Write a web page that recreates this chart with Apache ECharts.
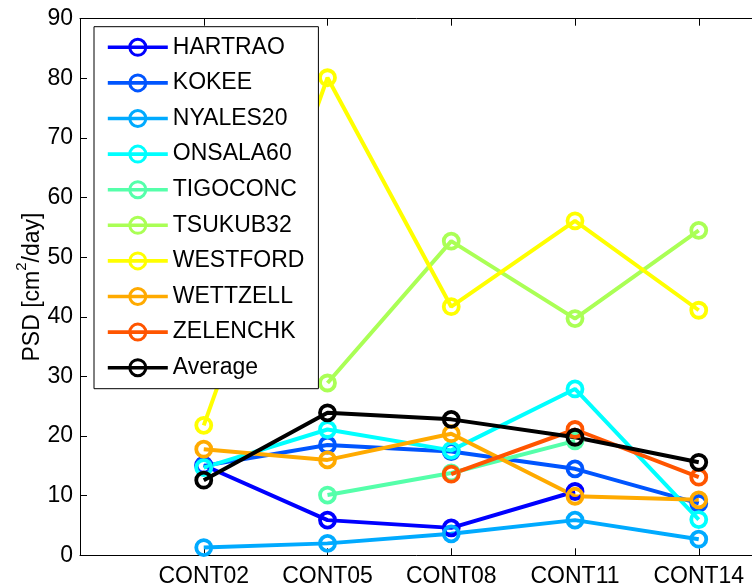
<!DOCTYPE html>
<html>
<head>
<meta charset="utf-8">
<script src="https://cdn.jsdelivr.net/npm/echarts@6/dist/echarts.min.js"></script>
<style>
  html, body { margin: 0; padding: 0; background: #ffffff; }
  #chart { width: 752px; height: 588px; }
</style>
</head>
<body>
<div id="chart"></div>
<script>
// Campaigns along the horizontal axis
const categories = ['CONT02', 'CONT05', 'CONT08', 'CONT11', 'CONT14'];

// PSD per station and campaign [cm^2/day]; null = station not observed
const HARTRAO  = [15.1, 5.9, 4.6, 10.7, null];
const KOKEE    = [15.0, 18.5, 17.4, 14.5, 8.7];
const NYALES20 = [1.3, 2.0, 3.6, 5.9, 2.7];
const ONSALA60 = [14.7, 21.1, 17.6, 27.9, 6.0];
const TIGOCONC = [null, 10.1, 13.8, 19.2, null];
const TSUKUB32 = [null, 28.9, 52.7, 39.7, 54.5];
const WESTFORD = [21.8, 80.1, 41.7, 56.1, 41.1];
const WETTZELL = [17.8, 16.0, 20.4, 9.9, 9.3];
const ZELENCHK = [null, null, 13.6, 21.1, 13.1];
const Average  = [12.6, 23.9, 22.8, 19.8, 15.6];

const stationNames = ['HARTRAO', 'KOKEE', 'NYALES20', 'ONSALA60', 'TIGOCONC',
                      'TSUKUB32', 'WESTFORD', 'WETTZELL', 'ZELENCHK', 'Average'];
const stationValues = [HARTRAO, KOKEE, NYALES20, ONSALA60, TIGOCONC,
                       TSUKUB32, WESTFORD, WETTZELL, ZELENCHK, Average];
const stationColors = ['#0000ff', '#0055ff', '#00aaff', '#00ffff', '#55ffaa',
                       '#aaff55', '#ffff00', '#ffaa00', '#ff5500', '#000000'];

// Y axis ticks
const yTicks = { min: 0, max: 90, step: 10 };

const FONT = 'Liberation Sans, Arial, Helvetica, sans-serif';

const chart = echarts.init(document.getElementById('chart'), null, { renderer: 'canvas' });

const series = stationNames.map((name, k) => ({
  name: name,
  type: 'line',
  color: stationColors[k],
  data: stationValues[k].map((v, i) => [i + 1, v]),
  symbol: 'circle',
  symbolSize: 15,
  showSymbol: true,
  lineStyle: { color: stationColors[k], width: 4 },
  itemStyle: { color: 'rgba(0,0,0,0)', borderColor: stationColors[k], borderWidth: 3.8 },
  emphasis: { disabled: true },
  z: 2
}));

const option = {
  animation: false,
  backgroundColor: '#ffffff',
  textStyle: { fontFamily: FONT, color: '#000' },
  // the sixth unit of the x range runs past the right edge of the canvas
  grid: { left: 80, top: 18.7, right: -70.5, bottom: 32.7, containLabel: false, outerBoundsMode: 'none' },
  legend: {
    orient: 'vertical',
    left: 94,
    top: 26.7,
    z: 20,
    padding: [8.6, 14, 9, 12],
    itemWidth: 60,
    itemHeight: 20,
    itemGap: 11.6,
    backgroundColor: '#ffffff',
    borderColor: '#000000',
    borderWidth: 1,
    lineStyle: { width: 3.6 },
    itemStyle: { borderWidth: 3 },
    textStyle: { fontFamily: FONT, fontSize: 23, lineHeight: 24, color: '#000' },
    data: stationNames
  },
  xAxis: [
    {
      type: 'value',
      min: 0, max: categories.length + 1, interval: 1,
      position: 'bottom',
      axisLine: { show: true, lineStyle: { color: '#000', width: 1 } },
      axisTick: { show: true, inside: true, length: 7, lineStyle: { color: '#000' } },
      axisLabel: {
        show: true, fontFamily: FONT, fontSize: 23, color: '#000', margin: 10,
        formatter: v => categories[v - 1] || ''
      },
      splitLine: { show: false }
    },
    {
      type: 'value',
      min: 0, max: categories.length + 1, interval: 1,
      position: 'top',
      axisLine: { show: true, lineStyle: { color: '#000', width: 1 } },
      axisTick: { show: true, inside: true, length: 7, lineStyle: { color: '#000' } },
      axisLabel: { show: false },
      splitLine: { show: false }
    }
  ],
  yAxis: {
    type: 'value',
    min: yTicks.min, max: yTicks.max, interval: yTicks.step,
    axisLine: { show: true, lineStyle: { color: '#000', width: 1 } },
    axisTick: { show: true, inside: true, length: 7, lineStyle: { color: '#000' } },
    axisLabel: { fontFamily: FONT, fontSize: 23, color: '#000', margin: 7 },
    splitLine: { show: false },
    name: '{n|PSD [cm}{s|2}{n|/day]}',
    nameLocation: 'middle',
    nameGap: 36,
    nameMoveOverlap: false,
    nameTextStyle: {
      fontFamily: FONT,
      rich: {
        n: { fontFamily: FONT, fontSize: 23, color: '#000', lineHeight: 30, verticalAlign: 'bottom' },
        s: { fontFamily: FONT, fontSize: 15, color: '#000', lineHeight: 30, verticalAlign: 'top' }
      }
    }
  },
  series: series
};

chart.setOption(option);
</script>
</body>
</html>
